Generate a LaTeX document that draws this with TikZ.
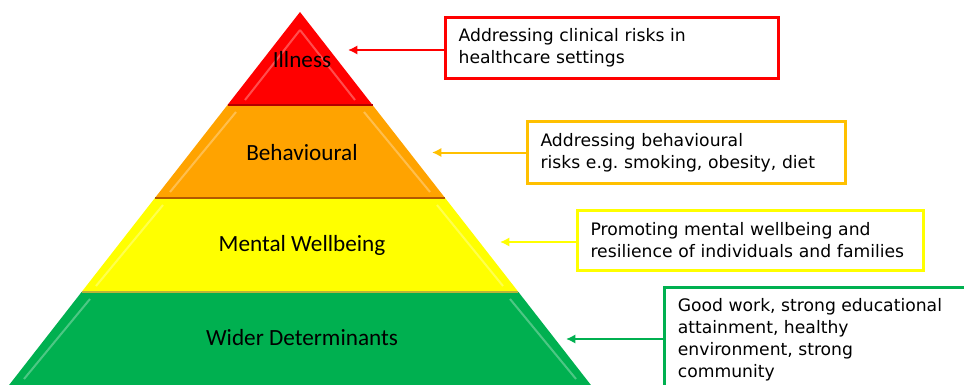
\documentclass[tikz,border=0pt]{standalone}
\usepackage{fontspec}
\setmainfont{DejaVu Sans}
\newfontfamily\calibri{Carlito}
\usetikzlibrary{arrows.meta}
\frenchspacing
\definecolor{illred}{RGB}{255,0,0}
\definecolor{behorange}{RGB}{255,163,0}
\definecolor{behgold}{RGB}{255,192,0}
\definecolor{menyellow}{RGB}{255,255,0}
\definecolor{widgreen}{RGB}{0,176,80}
\tikzstyle{level}=[font=\calibri\fontsize{17.4}{20}\selectfont]
\tikzstyle{note}=[draw, line width=2.25pt, fill=white, align=left, inner xsep=10pt, inner ysep=5pt, font=\fontsize{12.9}{16.5}\selectfont]
\tikzstyle{pointer}=[-{Latex[length=7pt,width=7pt]}, line width=1.5pt]
\tikzstyle{bevel}=[white, opacity=0.3, line width=1.5pt]

\begin{document}
\begin{tikzpicture}[x=0.75pt, y=-0.75pt]
\useasboundingbox (0,0) rectangle (964,385);
\clip (0,0) rectangle (964,385);
\fill[illred] (300,12) -- (372.5,105) -- (227.5,105) -- cycle;
\fill[behorange] (227.5,105) -- (372.5,105) -- (445.1,198) -- (154.9,198) -- cycle;
\fill[menyellow] (154.9,198) -- (445.1,198) -- (518.4,292) -- (81.6,292) -- cycle;
\fill[widgreen] (81.6,292) -- (518.4,292) -- (590.9,385) -- (9.1,385) -- cycle;
\draw[red!70!black, line width=1pt] (227.5,105) -- (372.5,105);
\draw[orange!70!black, line width=1pt] (154.9,198) -- (445.1,198);
\draw[yellow!70!black, line width=1pt] (81.6,292) -- (518.4,292);
\draw[bevel] (300,30) -- (245,100) (300,30) -- (355,100);
\draw[bevel] (236,112) -- (170,192) (364,112) -- (430,192);
\draw[bevel] (163,205) -- (96,286) (437,205) -- (503,286);
\draw[bevel] (90,299) -- (24,379) (510,299) -- (576,379);
\node[level] (ill) at (302,60) {Illness};
\node[level] (beh) at (302,153) {Behavioural};
\node[level] (men) at (302,245) {Mental Wellbeing};
\node[level] (wid) at (302,338) {Wider Determinants};
\node[note, draw=illred, text width=230pt, minimum height=46pt] (n1) at (612,48) {Addressing clinical risks in\\healthcare settings};
\node[note, draw=behgold, text width=219pt, minimum height=47pt] (n2) at (686.5,152.5) {Addressing behavioural\\risks e.g. smoking, obesity, diet};
\node[note, draw=menyellow, text width=240pt, minimum height=45pt] (n3) at (750.5,240) {Promoting mental wellbeing and\\resilience of individuals and families};
\node[note, draw=widgreen, anchor=north west, inner ysep=8pt] (n4) at (663,286) {\parbox[t][130pt][t]{260pt}{\raggedright Good work, strong educational\\attainment, healthy\\environment, strong\\community}};
\coordinate (t1) at (348,50);
\coordinate (t2) at (432,152.5);
\coordinate (t3) at (500,242);
\coordinate (t4) at (566,339);
\draw[pointer, illred] (n1.west |- t1) -- (t1);
\draw[pointer, behgold] (n2.west) -- (t2);
\draw[pointer, menyellow] (n3.west |- t3) -- (t3);
\draw[pointer, widgreen] (n4.west |- t4) -- (t4);
\end{tikzpicture}
\end{document}
